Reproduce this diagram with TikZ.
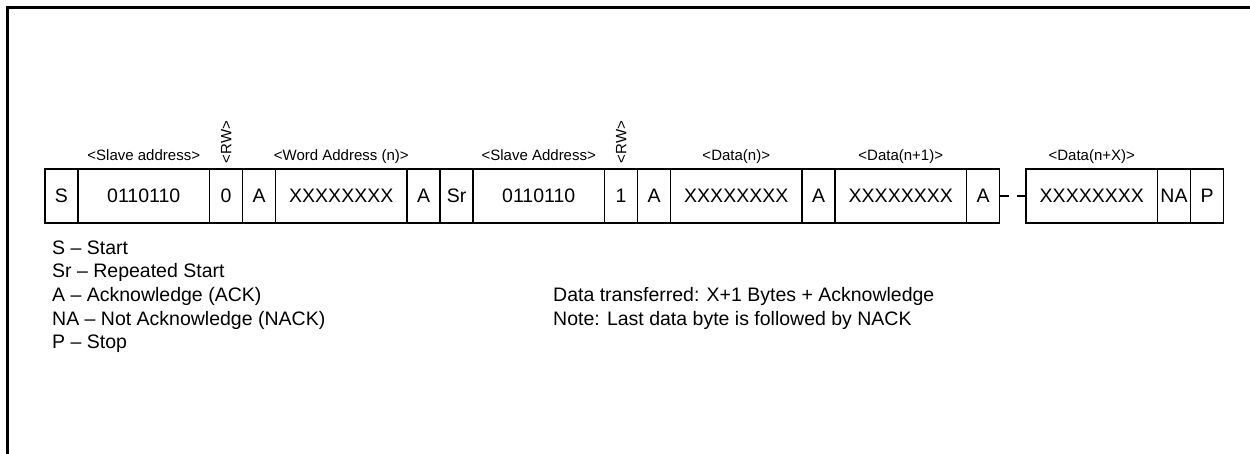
\documentclass[tikz,border=0pt]{standalone}
\usepackage{fontspec}
\setmainfont{Liberation Sans}
\begin{document}
\begin{tikzpicture}[x=1pt,y=-1pt,
  cell/.style={draw, line width=1.2pt, minimum height=54pt, inner sep=0pt, outer sep=0pt, anchor=west, font=\fontsize{19.5}{23}\selectfont},
  sm/.style={cell, minimum width=33pt},
  big/.style={cell, minimum width=131.5pt},
  lbl/.style={font=\fontsize{15}{18}\selectfont, anchor=base, inner sep=0pt},
  rwlbl/.style={font=\fontsize{15}{18}\selectfont, rotate=90, anchor=base west, inner sep=0pt},
  legend/.style={font=\fontsize{19.5}{23}\selectfont, anchor=base west, inner sep=0pt},
  frame/.style={line width=2.5pt}]
\useasboundingbox (0,0) rectangle (1250,454);
% frame (right and bottom edges lie outside the picture)
\draw[frame] (1270,7.5) -- (7.5,7.5) -- (7.5,480);
% sequence row
\node[sm] (s) at (45,196) {S};
\node[big] (sa1) at (s.east) {0110110};
\node[sm] (rw0) at (sa1.east) {0};
\node[sm] (a1) at (rw0.east) {A};
\node[big] (w1) at (a1.east) {XXXXXXXX};
\node[sm] (a2) at (w1.east) {A};
\node[sm] (sr) at (a2.east) {Sr};
\node[big] (sa2) at (sr.east) {0110110};
\node[sm] (rw1) at (sa2.east) {1};
\node[sm] (a3) at (rw1.east) {A};
\node[big] (d1) at (a3.east) {XXXXXXXX};
\node[sm] (a4) at (d1.east) {A};
\node[big] (d2) at (a4.east) {XXXXXXXX};
\node[sm] (a5) at (d2.east) {A};
\node[big] (d3) at (1026,196) {XXXXXXXX};
\node[sm] (na) at (d3.east) {NA};
\node[sm] (p) at (na.east) {P};
\draw[line width=1.2pt, dash pattern=on 9pt off 8pt] (a5.east) -- (d3.west);
% field labels
\coordinate (lab) at (0,160.5);
\coordinate (rwb) at (0,163.5);
\node[lbl] (l1) at (sa1 |- lab) {<Slave address>};
\node[rwlbl] (l2) at ([xshift=5.4pt]rw0 |- rwb) {<RW>};
\node[lbl] (l3) at (w1 |- lab) {<Word Address (n)>};
\node[lbl] (l4) at (sa2 |- lab) {<Slave Address>};
\node[rwlbl] (l5) at ([xshift=5.4pt]rw1 |- rwb) {<RW>};
\node[lbl] (l6) at (d1 |- lab) {<Data(n)>};
\node[lbl] (l7) at (d2 |- lab) {<Data(n+1)>};
\node[lbl] (l8) at (d3 |- lab) {<Data(n+X)>};
% legend
\node[legend] (g1) at (52,254.5) {S – Start};
\node[legend] (g2) at (52,278) {Sr – Repeated Start};
\node[legend] (g3) at (52,301.5) {A – Acknowledge (ACK)};
\node[legend] (g4) at (52,325) {NA – Not Acknowledge (NACK)};
\node[legend] (g5) at (52,348.5) {P – Stop};
\node[legend] (n1) at (553,301.5) {Data transferred: X+1 Bytes + Acknowledge};
\node[legend] (n2) at (553,325) {Note: Last data byte is followed by NACK};
\end{tikzpicture}
\end{document}
